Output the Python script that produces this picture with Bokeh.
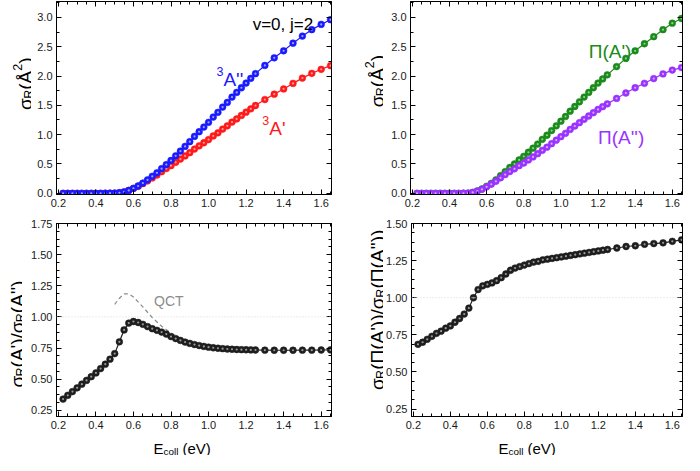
import math
from bokeh.plotting import figure
from bokeh.models import (Range1d, LinearAxis, FixedTicker, PrintfTickFormatter, Label, Span,
                          CustomJSTickFormatter)
from bokeh.layouts import column, row
from bokeh.embed import file_html
from bokeh.resources import INLINE

# ---------------- data ----------------
E = [0.225, 0.25, 0.275, 0.3, 0.325, 0.35, 0.375, 0.4, 0.425, 0.45, 0.475,
     0.5, 0.525, 0.55, 0.575, 0.6, 0.625, 0.65, 0.675, 0.7, 0.725, 0.75, 0.775,
     0.8, 0.825, 0.85, 0.875, 0.9, 0.925, 0.95, 0.975, 1.0, 1.025, 1.05, 1.075,
     1.1, 1.125, 1.15, 1.175, 1.2, 1.225, 1.25,
     1.3, 1.35, 1.4, 1.45, 1.5, 1.55, 1.6, 1.65]

sig_A2 = [0, 0, 0, 0, 0, 0, 0, 0, 0, 0.001, 0.002,
          0.004, 0.01, 0.025, 0.05, 0.085, 0.125, 0.175, 0.23, 0.29, 0.35, 0.42, 0.49,
          0.56, 0.64, 0.72, 0.80, 0.88, 0.97, 1.05, 1.13, 1.21, 1.30, 1.38, 1.47,
          1.55, 1.64, 1.72, 1.80, 1.88, 1.96, 2.04,
          2.18, 2.31, 2.43, 2.56, 2.68, 2.79, 2.88, 2.96]

sig_A1 = [0, 0, 0, 0, 0, 0, 0, 0, 0, 0.0005, 0.001,
          0.003, 0.008, 0.022, 0.048, 0.082, 0.119, 0.165, 0.212, 0.262, 0.312, 0.369, 0.422,
          0.472, 0.529, 0.584, 0.638, 0.693, 0.755, 0.809, 0.862, 0.916, 0.978, 1.032, 1.095,
          1.150, 1.214, 1.269, 1.327, 1.384, 1.441, 1.497,
          1.598, 1.691, 1.779, 1.874, 1.964, 2.045, 2.114, 2.176]

sig_PiA1 = [0, 0, 0, 0, 0, 0, 0, 0, 0, 0.0005, 0.001,
            0.004, 0.015, 0.04, 0.075, 0.12, 0.17, 0.23, 0.30, 0.37, 0.44, 0.50, 0.57,
            0.63, 0.70, 0.77, 0.84, 0.92, 0.99, 1.07, 1.15, 1.23, 1.31, 1.40, 1.48,
            1.56, 1.64, 1.72, 1.80, 1.88, 1.95, 2.02,
            2.16, 2.30, 2.43, 2.55, 2.67, 2.79, 2.90, 2.98]

sig_PiA2 = [0, 0, 0, 0, 0, 0, 0, 0, 0, 0.0005, 0.001,
            0.004, 0.015, 0.038, 0.069, 0.11, 0.155, 0.206, 0.264, 0.319, 0.371, 0.417, 0.471,
            0.516, 0.569, 0.621, 0.675, 0.733, 0.786, 0.846, 0.906, 0.965, 1.023, 1.089, 1.147,
            1.205, 1.262, 1.318, 1.374, 1.430, 1.477, 1.525,
            1.618, 1.710, 1.800, 1.875, 1.956, 2.036, 2.101, 2.144]

ratio_A = [0.34, 0.37, 0.40, 0.43, 0.46, 0.49, 0.52, 0.55, 0.585, 0.62, 0.66,
           0.705, 0.80, 0.895, 0.95, 0.963, 0.955, 0.94, 0.922, 0.905, 0.892, 0.878, 0.862,
           0.842, 0.826, 0.811, 0.798, 0.787, 0.778, 0.77, 0.763, 0.757, 0.752, 0.748, 0.745,
           0.742, 0.74, 0.738, 0.737, 0.736, 0.735, 0.734,
           0.733, 0.732, 0.732, 0.732, 0.733, 0.733, 0.734, 0.735]

ratio_Pi = [0.686, 0.70, 0.72, 0.74, 0.76, 0.775, 0.795, 0.81, 0.835, 0.86, 0.89,
            0.93, 1.0, 1.055, 1.08, 1.09, 1.10, 1.115, 1.135, 1.16, 1.185, 1.20, 1.21,
            1.22, 1.23, 1.24, 1.245, 1.255, 1.26, 1.265, 1.27, 1.275, 1.28, 1.285, 1.29,
            1.295, 1.30, 1.305, 1.31, 1.315, 1.32, 1.325,
            1.335, 1.345, 1.35, 1.36, 1.365, 1.37, 1.38, 1.39]

qct_E = [0.5, 0.525, 0.55, 0.575, 0.6, 0.625, 0.65, 0.7, 0.75, 0.8, 0.85, 0.9, 0.95, 1.0]
qct_ratio = [1.10, 1.15, 1.185, 1.185, 1.16, 1.12, 1.08, 0.995, 0.925, 0.87, 0.83, 0.80, 0.78, 0.77]

x_ticks = [0.2, 0.4, 0.6, 0.8, 1.0, 1.2, 1.4, 1.6]
x_minor = [0.2 + 0.05 * i for i in range(30)]
y_ticks_top = [0.0, 0.5, 1.0, 1.5, 2.0, 2.5, 3.0]
y_minor_top = [0.25 * i for i in range(14)]
y_ticks_bl = [0.25, 0.50, 0.75, 1.00, 1.25, 1.50, 1.75]
y_ticks_br = [0.25, 0.50, 0.75, 1.00, 1.25, 1.50]
y_minor_bot = [0.0625 * i for i in range(3, 30)]

# ---------------- styling helpers ----------------
FONT = "Liberation Sans"
TICK_COL = "#1a1a1a"

W = {'σ': 0.58, 'R': 0.722, '(': 0.333, ')': 0.333, 'Å': 0.667, '2': 0.556, 'A': 0.667,
     "'": 0.191, '/': 0.278, 'Π': 0.752, 'E': 0.667, 'c': 0.5, 'o': 0.556, 'l': 0.222,
     ' ': 0.278, 'e': 0.556, 'V': 0.667, '3': 0.556}


def text_w(s, size):
    return sum(W.get(ch, 0.55) for ch in s) * size


def rich(p, parts, x, y, size, color="black", vertical=False, center=False):
    """Compose text with sub/superscripts: anchor in data units, pieces offset in px."""
    segs = []
    total = 0.0
    for t, k in parts:
        s = size if k == "n" else size * 0.66
        shift = 0 if k == "n" else (-0.2 * size if k == "sub" else 0.42 * size)
        lead = len(t) - len(t.lstrip(" "))
        total += text_w(" " * lead, s)
        segs.append((t.lstrip(" "), s, shift, total))
        total += text_w(t.lstrip(" "), s)
    start = -total / 2 if center else 0.0
    for t, s, shift, adv in segs:
        if vertical:
            xo, yo, ang = -shift, start + adv, math.pi / 2
        else:
            xo, yo, ang = start + adv, shift, 0
        p.add_layout(Label(x=x, y=y, x_offset=xo, y_offset=yo, text=t, angle=ang,
                           text_font=FONT, text_font_size=f"{s:.1f}px", text_color=color,
                           text_align="left", text_baseline="alphabetic"))


def style_axis(ax, ticks, minor, fmt, show_labels=True):
    ax.ticker = FixedTicker(ticks=ticks, minor_ticks=minor)
    ax.axis_line_color = "black"
    ax.axis_line_width = 1
    ax.major_tick_in = 5
    ax.major_tick_out = 0
    ax.minor_tick_in = 3
    ax.minor_tick_out = 0
    ax.major_tick_line_color = "black"
    ax.minor_tick_line_color = "black"
    ax.major_label_text_font = FONT
    if show_labels:
        ax.formatter = PrintfTickFormatter(format=fmt)
        ax.major_label_text_font_size = "11px"
        ax.major_label_text_color = TICK_COL
        ax.major_label_standoff = 4
    else:
        ax.formatter = CustomJSTickFormatter(code="return ''")
        ax.major_label_text_font_size = "1px"
        ax.major_label_standoff = 0


def make_fig(w, h, yr, yticks, yminor, yfmt, left, right, top, bottom):
    p = figure(width=w, height=h, x_range=Range1d(0.19, 1.655), y_range=Range1d(*yr),
               output_backend="svg", toolbar_location=None, tools="",
               min_border_left=left, min_border_right=right,
               min_border_top=top, min_border_bottom=bottom)
    p.grid.visible = False
    p.outline_line_color = "black"
    p.outline_line_width = 1
    p.background_fill_color = "white"
    p.border_fill_color = "white"
    style_axis(p.xaxis[0], x_ticks, x_minor, "%.1f")
    style_axis(p.yaxis[0], yticks, yminor, yfmt)
    ta = LinearAxis()
    style_axis(ta, x_ticks, x_minor, "%.1f", show_labels=False)
    p.add_layout(ta, "above")
    ra = LinearAxis()
    style_axis(ra, yticks, yminor, yfmt, show_labels=False)
    p.add_layout(ra, "right")
    return p


def blank(w, h):
    """A bare canvas whose data units equal pixels, for axis titles."""
    p = figure(width=w, height=h, x_range=Range1d(0, w), y_range=Range1d(0, h),
               x_axis_type=None, y_axis_type=None, output_backend="svg",
               toolbar_location=None, tools="", min_border=0)
    p.grid.visible = False
    p.outline_line_color = None
    p.background_fill_color = "white"
    p.border_fill_color = "white"
    return p


def series(p, x, y, color, light, lw=1.2):
    p.line(x, y, line_color=color, line_width=lw)
    p.scatter(x, y, size=6.8, fill_color=color, line_color=color, line_width=0.5)
    p.scatter(x, y, size=2.2, fill_color=light, line_color=None)


# geometry (px) -- total 684 x 455
YL_TL, PB_TL = 31, 25          # top-left: title strip + tick-label border
YL_BL, PB_BL = 22, 34          # bottom-left
YL_R, PB_R = 46, 27            # right column
LEFT_W, RIGHT_W = 337, 347
PR_L, PR_R = 6, 2
TH, BH, SH = 216, 220, 19
FH = 193
T_TOP, B_TOP = 1, 7
T_BOT, B_BOT = TH - T_TOP - FH, BH - B_TOP - FH
YT = 19

# ---------------- top-left ----------------
p1 = make_fig(LEFT_W - YL_TL, TH, (-0.02, 3.27), y_ticks_top, y_minor_top, "%.1f",
              PB_TL, PR_L, T_TOP, T_BOT)
series(p1, E, sig_A1, "#ff1a1a", "#ff9a9a")
series(p1, E, sig_A2, "#1a1aff", "#9aa4ff")
p1.add_layout(Label(x=1.235, y=2.88, text="v=0, j=2", text_font=FONT, text_font_size="17px",
                    text_color="black", text_baseline="alphabetic"))
rich(p1, [("3", "sup"), ("A''", "n")], 1.042, 1.94, 19, color="#1a1aff")
rich(p1, [("3", "sup"), ("A'", "n")], 1.286, 1.10, 19, color="#ff1a1a")
yl1 = blank(YL_TL, TH)
rich(yl1, [("σ", "n"), ("R", "sub"), ("(Å", "n"), ("2", "sup"), (")", "n")],
     25, TH - 92, YT, vertical=True, center=True)

# ---------------- top-right ----------------
p2 = make_fig(RIGHT_W - YL_R, TH, (-0.02, 3.27), y_ticks_top, y_minor_top, "%.1f",
              PB_R, PR_R, T_TOP, T_BOT)
series(p2, E, sig_PiA1, "#1a8a1a", "#8fcf8f")
series(p2, E, sig_PiA2, "#9a33ff", "#d2acff")
p2.add_layout(Label(x=1.15, y=2.42, text="Π(A')", text_font=FONT, text_font_size="19px",
                    text_color="#1a8a1a", text_baseline="alphabetic"))
p2.add_layout(Label(x=1.20, y=0.95, text="Π(A'')", text_font=FONT, text_font_size="19px",
                    text_color="#9a33ff", text_baseline="alphabetic"))
yl2 = blank(YL_R, TH)
rich(yl2, [("σ", "n"), ("R", "sub"), ("(Å", "n"), ("2", "sup"), (")", "n")],
     40, TH - 89, YT, vertical=True, center=True)

# ---------------- bottom-left ----------------
p3 = make_fig(LEFT_W - YL_BL, BH, (0.2, 1.75), y_ticks_bl, y_minor_bot, "%.2f",
              PB_BL, PR_L, B_TOP, B_BOT)
p3.add_layout(Span(location=1.0, dimension="width", line_color="#d8d8d8",
                   line_dash="1 2", line_width=1))
p3.line(qct_E, qct_ratio, line_color="#8c8c8c", line_dash="4 3", line_width=1.2)
series(p3, E, ratio_A, "#1e1e1e", "#9a9a9a")
p3.add_layout(Label(x=0.71, y=1.13, text="QCT", text_font=FONT, text_font_size="14px",
                    text_color="#8c8c8c", text_baseline="alphabetic"))
yl3 = blank(YL_BL, BH)
rich(yl3, [("σ", "n"), ("R", "sub"), ("(A')/σ", "n"), ("R", "sub"), ("(A'')", "n")],
     17, 94, YT, vertical=True, center=True)

# ---------------- bottom-right ----------------
p4 = make_fig(RIGHT_W - YL_R, BH, (0.2, 1.5), y_ticks_br, y_minor_bot, "%.2f",
              PB_R, PR_R, B_TOP, B_BOT)
p4.add_layout(Span(location=1.0, dimension="width", line_color="#d8d8d8",
                   line_dash="1 2", line_width=1))
series(p4, E, ratio_Pi, "#1e1e1e", "#9a9a9a")
yl4 = blank(YL_R, BH)
rich(yl4, [("σ", "n"), ("R", "sub"), ("(Π(A'))/σ", "n"), ("R", "sub"), ("(Π(A''))", "n")],
     40, 122, YT, vertical=True, center=True)

# ---------------- x titles ----------------
xl1 = blank(LEFT_W, SH)
rich(xl1, [("E", "n"), ("coll", "sub"), (" (eV)", "n")], 153, 7, 15)
xl2 = blank(RIGHT_W, SH)
rich(xl2, [("E", "n"), ("coll", "sub"), (" (eV)", "n")], 161, 7, 15)

layout = column(row(yl1, p1, yl2, p2), row(yl3, p3, yl4, p4), row(xl1, xl2))
open("out.html", "w").write(file_html(layout, INLINE))
